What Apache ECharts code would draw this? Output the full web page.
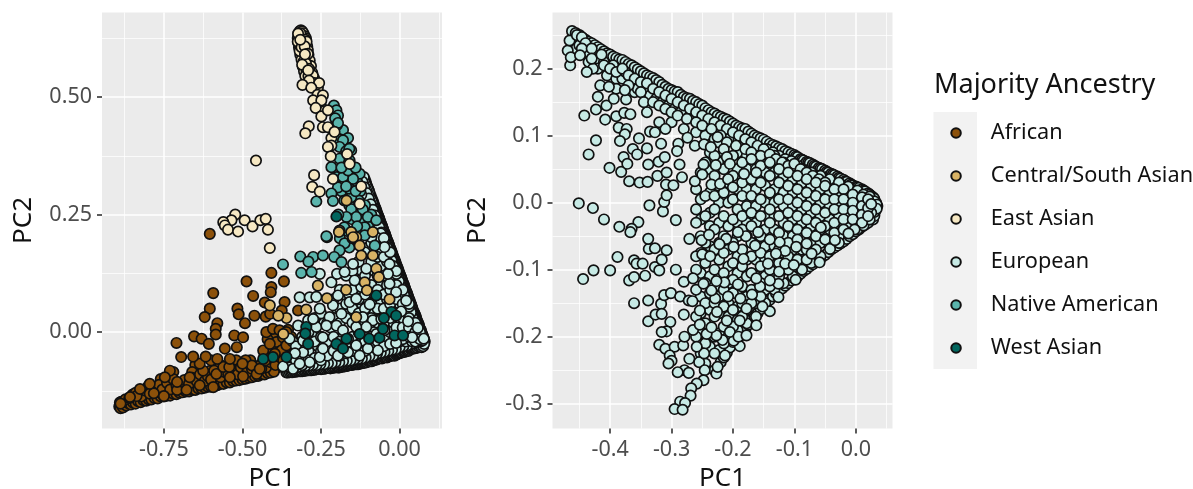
<!DOCTYPE html>
<html><head><meta charset="utf-8">
<style>html,body{margin:0;padding:0;background:#fff}#c{width:1193px;height:489px}</style>
<script src="https://cdn.jsdelivr.net/npm/echarts@6/dist/echarts.min.js"></script></head>
<body><div id="c"></div>
<script>
const categories=['African','Central/South Asian','East Asian','European','Native American','West Asian'];
const colors=['#8C510A','#D8B365','#F6E8C3','#C7EAE5','#5AB4AC','#01665E'];
const leftXTicks=[-0.75,-0.5,-0.25,0];
const leftYTicks=[0,0.25,0.5];
const leftXMinor=[-0.875,-0.625,-0.375,-0.125,0.125];
const leftYMinor=[-0.125,0.125,0.375,0.625];
const rightXTicks=[-0.4,-0.3,-0.2,-0.1,0];
const rightYTicks=[-0.3,-0.2,-0.1,0,0.1,0.2];
const rightXMinor=[-0.45,-0.35,-0.25,-0.15,-0.05,0.05];
const rightYMinor=[-0.25,-0.15,-0.05,0.05,0.15,0.25];

const africanDense=[[-.89,-.15],[-.886,-.148],[-.878,-.15],[-.868,-.148],[-.858,-.146],[-.85,-.143],[-.843,-.14],[-.835,-.14],[-.826,-.138],[-.818,-.135],[-.81,-.136],[-.8,-.133],[-.792,-.135],[-.784,-.127],[-.776,-.118],[-.768,-.13],[-.758,-.127],[-.746,-.125],[-.738,-.115],[-.725,-.118],[-.715,-.125],[-.7,-.118],[-.69,-.108],[-.675,-.116],[-.662,-.113],[-.652,-.108],[-.64,-.112],[-.628,-.108],[-.615,-.108],[-.605,-.083],[-.598,-.108],[-.585,-.104],[-.575,-.085],[-.565,-.102],[-.552,-.098],[-.548,-.08],[-.535,-.095],[-.522,-.094],[-.51,-.083],[-.495,-.088],[-.478,-.088],[-.462,-.086],[-.45,-.072],[-.435,-.08],[-.418,-.078],[-.402,-.076],[-.39,-.075],[-.38,-.073],[-.415,-.055],[-.405,-.04],[-.39,-.06],[-.375,-.05],[-.365,-.068],[-.355,-.06],[-.4,-.01],[-.385,-.02],[-.365,-.015],[-.355,.005],[-.345,-.01],[-.42,-.015],[-.43,-.05],[-.475,-.06],[-.49,-.06],[-.52,-.06],[-.57,-.07],[-.65,-.07],[-.6,-.06],[-.66,-.085],[-.72,-.085],[-.76,-.1],[-.8,-.124],[-.83,-.13]];
const african=[[-.892,-.158],[-.888,-.162],[-.885,-.155],[-.88,-.16],[-.875,-.153],[-.87,-.156],[-.862,-.152],[-.855,-.154],[-.848,-.15],[-.84,-.152],[-.832,-.147],[-.824,-.149],[-.815,-.145],[-.806,-.146],[-.798,-.143],[-.79,-.143],[-.78,-.14],[-.77,-.141],[-.76,-.137],[-.75,-.137],[-.74,-.135],[-.73,-.135],[-.72,-.131],[-.71,-.132],[-.7,-.129],[-.69,-.128],[-.68,-.126],[-.67,-.126],[-.66,-.123],[-.65,-.123],[-.64,-.12],[-.63,-.12],[-.62,-.118],[-.61,-.116],[-.6,-.116],[-.59,-.113],[-.58,-.113],[-.57,-.11],[-.56,-.11],[-.55,-.107],[-.54,-.107],[-.53,-.104],[-.52,-.103],[-.51,-.102],[-.5,-.1],[-.49,-.099],[-.48,-.097],[-.47,-.096],[-.46,-.094],[-.45,-.093],[-.44,-.09],[-.43,-.09],[-.42,-.087],[-.41,-.086],[-.4,-.084],
[-.882,-.148],[-.872,-.143],[-.86,-.14],[-.85,-.133],[-.84,-.129],[-.822,-.137],[-.81,-.124],[-.8,-.115],[-.79,-.12],[-.775,-.128],[-.765,-.112],[-.755,-.122],[-.74,-.108],[-.73,-.122],[-.72,-.1],[-.71,-.113],[-.695,-.115],[-.685,-.102],[-.67,-.11],[-.66,-.097],[-.645,-.105],[-.635,-.09],[-.62,-.104],[-.61,-.094],[-.6,-.101],[-.59,-.082],[-.57,-.096],[-.56,-.084],[-.545,-.09],[-.53,-.079],[-.515,-.09],[-.505,-.075],[-.485,-.085],[-.47,-.078],[-.455,-.08],[-.44,-.068],[-.425,-.075],[-.41,-.064],[-.395,-.07],[-.385,-.052],[-.37,-.06],[-.36,-.045],[-.35,-.035],[-.345,-.05],
[-.837,-.136],[-.795,-.131],[-.782,-.13],[-.75,-.136],[-.708,-.123],[-.678,-.123],[-.636,-.113],[-.583,-.089],[-.54,-.096],[-.498,-.094],[-.44,-.078],[-.593,-.117],[-.731,-.082],[-.747,-.096],[-.795,-.11],[-.826,-.121],[-.858,-.138],[-.708,-.106],[-.668,-.096],[-.625,-.082],[-.636,-.067],[-.561,-.074],[-.47,-.071],[-.455,-.089],[-.5,-.067],[-.542,-.074],[-.427,-.06],[-.445,-.078],[-.888,-.152],
[-.604,.209],[-.408,.126],[-.487,.108],[-.368,.108],[-.593,.083],[-.408,.096],[-.41,.085],[-.466,.077],[-.429,.063],[-.366,.064],[-.604,.05],[-.62,.032],[-.516,.05],[-.512,.038],[-.462,.035],[-.426,.033],[-.412,.039],[-.375,.046],[-.323,.046],[-.58,.019],[-.585,.007],[-.492,.019],[-.424,0],[-.403,.007],[-.382,.004],[-.36,0],[-.585,-.005],[-.654,-.009],[-.63,-.014],[-.71,-.023],[-.607,-.025],[-.526,-.007],[-.498,-.011],[-.518,-.032],[-.556,-.035],[-.695,-.053],[-.657,-.052],[-.617,-.052],[-.58,-.057],[-.54,-.057],[-.434,-.039],[-.392,-.021],[-.371,-.011],[-.35,-.021],[-.413,-.025],[-.376,-.039],[-.397,-.046],[-.36,-.028]];

const leftSlopeEdge=[[.078,-.017],[.075,-.011],[.072,-.005],[.069,.001],[.065,.007],[.062,.013],[.059,.019],[.055,.025],[.052,.031],[.049,.037],[.045,.043],[.041,.049],[.038,.055],[.035,.061],[.032,.067],[.028,.073],[.025,.079],[.022,.085],[.018,.091],[.015,.097],[.012,.103],[.008,.109],[.005,.115],[.002,.121],[-.002,.127],[-.005,.133],[-.008,.139],[-.012,.145],[-.015,.151],[-.018,.157],[-.022,.163],[-.025,.169],[-.028,.175],[-.032,.181],[-.035,.187],[-.038,.193],[-.042,.199],[-.045,.205],[-.048,.211],[-.052,.217],[-.055,.223],[-.058,.229],[-.062,.235],[-.065,.241],[-.068,.247],[-.072,.253],[-.075,.259],[-.078,.265],[-.082,.271],[-.085,.277],[-.089,.285],[-.095,.295],[-.1,.305],[-.106,.315],[-.111,.325],
[.08,-.02],[.077,-.014],[.074,-.008],[.07,-.002],[.068,.004],[.063,.01],[.061,.016],[.057,.022],[.053,.028],[.051,.034],[.047,.04],[.042,.046],[.04,.052],[.037,.058],[.033,.064],[.03,.07],[.027,.076],[.024,.082],[.02,.088],[.017,.094],[.014,.1],[.01,.106],[.007,.112],[.004,.118],[0,.124],[-.003,.13],[-.006,.136],[-.01,.142],[-.013,.148],[-.016,.154],[-.02,.16],[-.023,.166],[-.026,.172],[-.03,.178],[-.033,.184],[-.036,.19],[-.04,.196],[-.043,.202],[-.046,.208],[-.05,.214],[-.053,.22],[-.056,.226],[-.06,.232],[-.063,.238],[-.066,.244],[-.07,.25],[-.073,.256],[-.076,.262],[-.08,.268],[-.083,.274],[-.086,.28],[-.092,.29],[-.097,.3],[-.103,.31],[-.108,.32],[-.114,.33]];
const leftBaseEdge=[[.078,-.025],[.075,-.03],[.07,-.032],[.065,-.028],[.06,-.03],[.054,-.032],[.05,-.034],[.044,-.032],[.04,-.036],[.034,-.036],[.028,-.04],[.022,-.038],[.016,-.042],[.01,-.041],[.004,-.044],[-.002,-.045],[-.008,-.047],[-.016,-.05],[-.024,-.049],[-.032,-.051],[-.04,-.054],[-.048,-.053],[-.056,-.056],[-.064,-.055],[-.072,-.058],[-.08,-.059],[-.088,-.062],[-.096,-.061],[-.104,-.064],[-.112,-.065],[-.12,-.066],[-.128,-.067],[-.136,-.068],[-.144,-.068],[-.152,-.07],[-.16,-.07],[-.168,-.072],[-.176,-.073],[-.184,-.073],[-.192,-.075],[-.2,-.074],[-.21,-.075],[-.22,-.077],[-.23,-.076],[-.24,-.078],[-.25,-.079],[-.26,-.078],[-.27,-.08],[-.28,-.081],[-.29,-.081],[-.3,-.082],[-.31,-.083],[-.32,-.083],[-.33,-.084],[-.34,-.085],[-.35,-.085],[-.36,-.086],
[.074,-.028],[.068,-.03],[.062,-.031],[.056,-.033],[.048,-.033],[.042,-.034],[.036,-.035],[.03,-.038],[.024,-.039],[.018,-.04],[.012,-.041],[.006,-.043],[0,-.044],[-.005,-.046],[-.012,-.048],[-.02,-.049],[-.028,-.05],[-.036,-.052],[-.044,-.053],[-.052,-.054],[-.06,-.055],[-.068,-.056],[-.076,-.058],[-.084,-.06],[-.092,-.062],[-.1,-.062],[-.108,-.064],[-.116,-.065],[-.124,-.066],[-.132,-.068],[-.14,-.068],[-.148,-.069],[-.156,-.07],[-.164,-.071],[-.172,-.072],[-.18,-.073],[-.188,-.074],[-.196,-.075],[-.205,-.075],[-.215,-.076],[-.225,-.076],[-.235,-.077],[-.245,-.078],[-.255,-.078],[-.265,-.079],[-.275,-.08],[-.285,-.081],[-.295,-.081],[-.305,-.082],[-.315,-.083],[-.325,-.083],[-.335,-.084],[-.345,-.085],[-.355,-.086]];
const europeanLeftDense=[[-.118,.32],[-.112,.308],[-.105,.296],[-.098,.284],[-.092,.272],[-.085,.26],[-.078,.248],[-.072,.236],[-.065,.224],[-.058,.212],[-.052,.2],[-.045,.188],[-.038,.176],[-.032,.164],[-.025,.152],[-.018,.14],[-.012,.128],[-.005,.116],[.002,.104],[.008,.092],[.015,.08],[.022,.068],[.028,.056],[.035,.044],[.042,.032],[.048,.02],[.055,.008],[.06,-.004],[.065,-.012],
[.06,-.02],[.048,-.022],[.036,-.025],[.024,-.028],[.012,-.03],[0,-.032],[-.012,-.036],[-.024,-.038],[-.036,-.04],[-.048,-.042],[-.06,-.044],[-.072,-.046],[-.084,-.05],[-.096,-.051],[-.108,-.054],[-.12,-.056],[-.132,-.057],[-.144,-.058],[-.156,-.06],[-.168,-.061],[-.18,-.062],[-.192,-.064],[-.204,-.064],[-.216,-.066],[-.228,-.066],[-.24,-.068],[-.252,-.068],[-.264,-.07],[-.276,-.07],[-.288,-.071],[-.3,-.072],[-.312,-.072],[-.324,-.074],[-.336,-.074],[-.348,-.075],
[-.34,-.02],[-.32,-.04],[-.3,-.025],[-.28,-.005],[-.26,-.03],[-.24,.02],[-.22,.01],[-.2,.05],[-.18,.08],[-.18,-.01],[-.16,.04],[-.16,.08],[-.16,-.02],[-.14,.12],[-.14,.05],[-.14,-.01],[-.12,.13],[-.12,.09],[-.12,.06],[-.12,-.01],[-.1,.18],[-.1,.1],[-.1,.07],[-.1,.04],[-.1,-.01],[-.08,.2],[-.08,.16],[-.08,.13],[-.08,.08],[-.08,.04],[-.08,0],[-.06,.21],[-.06,.18],[-.06,.14],[-.06,.1],[-.06,.06],[-.06,.03],[-.06,-.01],[-.04,.18],[-.04,.15],[-.04,.1],[-.04,.07],[-.04,.04],[-.04,.01],[-.04,-.02],[-.02,.12],[-.02,.08],[-.02,.05],[-.02,.02],[-.02,-.01],[0,.09],[0,.06],[0,.03],[0,0],[0,-.02],[.02,.05],[.02,.02],[.02,0],[.02,-.02],[.04,.02],[.04,0],[.04,-.02]];
const europeanLeft=[[.066,-.02],[.062,-.006],[.056,.008],[.05,.018],[.042,.03],[.036,.042],[.03,.054],[.022,.068],[.014,.08],[.006,.096],[-.002,.108],[-.01,.124],[-.02,.14],[.072,-.018],
[-.33,-.03],[-.33,-.06],[-.31,-.01],[-.31,-.05],[-.31,-.07],[-.29,0],[-.29,-.04],[-.29,-.06],[-.27,.03],[-.27,-.02],[-.27,-.055],[-.25,.04],[-.25,-.01],[-.25,-.04],[-.25,-.06],[-.23,.02],[-.23,-.02],[-.23,-.05],[-.21,.07],[-.21,.03],[-.21,-.01],[-.21,-.04],[-.19,.09],[-.19,.05],[-.19,.02],[-.19,-.02],[-.19,-.05],[-.17,.12],[-.17,.06],[-.17,.03],[-.17,-.03],[-.17,-.045],[-.15,.13],[-.15,.09],[-.15,.05],[-.15,.02],[-.15,-.01],[-.15,-.04],[-.13,.15],[-.13,.11],[-.13,.07],[-.13,.04],[-.13,0],[-.13,-.03],[-.11,.17],[-.11,.12],[-.11,.08],[-.11,.05],[-.11,.02],[-.11,-.02],[-.11,-.04],[-.09,.19],[-.09,.15],[-.09,.1],[-.09,.06],[-.09,.03],[-.09,-.01],[-.09,-.03],[-.07,.2],[-.07,.16],[-.07,.12],[-.07,.09],[-.07,.05],[-.07,.02],[-.07,-.02],[-.05,.2],[-.05,.16],[-.05,.12],[-.05,.08],[-.05,.05],[-.05,.02],[-.05,-.01],[-.05,-.03],[-.03,.17],[-.03,.13],[-.03,.09],[-.03,.06],[-.03,.03],[-.03,0],[-.03,-.025],[-.01,.13],[-.01,.1],[-.01,.07],[-.01,.04],[-.01,.01],[-.01,-.01],[.01,.09],[.01,.06],[.01,.03],[.01,.01],[.01,-.015],[.03,.06],[.03,.03],[.03,.01],[.03,-.01],[.05,.02],[.05,0],[.05,-.02],[.065,0],[.065,-.015],
[-.35,-.014],[-.318,.074],[-.291,.025],[-.323,.014],[-.307,-.018],[-.265,.011],[-.244,-.011],[-.286,.074],[-.265,.075],[-.254,.124],[-.217,.106],[-.199,.124],[-.175,.128],[-.148,.145],[-.196,.078],[-.212,.057],[-.254,.05],[-.275,.028],[-.223,.032],[-.185,.039],[-.201,.014],[-.233,.014],[-.159,.064],[-.138,.071],[-.095,.059],[-.122,.096],[-.143,.11],[-.032,.103],[-.037,.124],[-.032,.145],[-.106,.135],[-.09,.204],[-.048,.181],[-.011,.085],[.021,.067],[.005,.044],[.027,.023],[.058,.009],[.077,-.014],[.04,-.011],[-.011,-.023],[-.069,-.039],[-.101,-.035],[-.138,-.028],[-.164,-.014],[-.127,-.05],[-.164,-.043],[-.196,-.05],[-.254,-.053],[-.286,-.064],[-.244,-.035],[-.307,-.043],[-.333,-.045],[-.339,-.078],[-.371,-.073],[-.318,-.067],[-.18,.004],[-.117,.032],[-.085,.025],[-.058,.028],[-.048,.004],[-.106,.011],[-.074,-.004],[-.138,.011],[-.122,.292],[-.09,.202]];

const nativeAmerican=[[-.15,.35],[-.135,.32],[-.125,.3],[-.15,.32],[-.13,.28],[-.11,.27],[-.09,.25],[-.12,.24],[-.1,.225],[-.16,.27],[-.185,.3],[-.2,.33],[-.17,.36],[-.19,.43],[-.175,.4],[-.15,.24],[-.165,.215],[-.125,.215],[-.19,.2],[-.16,.18],[-.18,.43],[-.19,.41],[-.2,.44],
[-.209,.482],[-.201,.472],[-.196,.461],[-.205,.455],[-.196,.445],[-.164,.413],[-.18,.408],[-.191,.394],[-.154,.387],[-.191,.369],[-.217,.351],[-.159,.365],[-.127,.337],[-.148,.326],[-.18,.33],[-.164,.344],[-.196,.308],[-.217,.295],[-.212,.279],[-.265,.278],[-.176,.28],[-.154,.287],[-.154,.262],[-.117,.261],[-.138,.245],[-.101,.245],[-.074,.238],[-.111,.223],[-.169,.245],[-.176,.223],[-.231,.202],[-.233,.204],[-.175,.189],[-.191,.174],[-.208,.16],[-.185,.149],[-.316,.161],[-.275,.16],[-.244,.163],[-.371,.144],[-.313,.126],[-.28,.128],[-.079,.184],[-.111,.206],[-.15,.2],[-.135,.225],[-.195,.25],[-.16,.305],[-.14,.3],[-.17,.31],[-.185,.35],[-.14,.35],[-.17,.385],[-.16,.39],[-.29,.15]];

const centralSouthAsian=[[-.191,.216],[-.154,.213],[-.138,.202],[-.085,.213],[-.169,.28],[-.193,.213],[-.148,.202],[-.127,.184],[-.122,.163],[-.085,.163],[-.074,.135],[-.066,.117],[-.111,.106],[-.104,.089],[-.231,.072],[-.032,.07],[-.26,.099],[-.297,.048],[-.36,.03],[-.386,.035],[-.413,.057],[-.138,.032],[-.37,-.004],[-.17,.09]];

const westAsian=[[-.201,.246],[-.074,.078],[-.026,.043],[-.011,.035],[-.05,.03],[-.127,-.004],[-.097,-.014],[-.064,-.012],[-.016,-.007],[.011,-.007],[-.053,.007],[-.297,.011],[-.3,-.003],[-.169,-.014],[-.201,-.025],[-.18,-.035],[-.291,-.025],[-.36,-.053],[-.403,-.053],[-.434,-.057]];

const eastAsian=[[-.322,.635],[-.318,.64],[-.314,.642],[-.31,.64],[-.306,.636],[-.302,.63],[-.298,.625],[-.324,.625],[-.322,.615],[-.318,.62],[-.312,.63],[-.308,.622],[-.316,.61],[-.31,.612],[-.304,.615],[-.298,.612],[-.294,.608],[-.32,.605],[-.314,.6],[-.306,.602],[-.3,.6],[-.292,.6],[-.316,.59],[-.31,.592],[-.304,.59],[-.296,.592],[-.29,.59],[-.3,.58],[-.312,.58],[-.306,.575],[-.294,.578],[-.286,.578],[-.308,.565],[-.3,.568],[-.29,.568],[-.282,.566],[-.304,.555],[-.296,.556],[-.284,.555],[-.278,.552],[-.3,.545],[-.29,.545],[-.28,.54],[-.272,.54],[-.285,.53],[-.32,.632],[-.316,.636],[-.3,.622],[-.296,.618],[-.32,.612],[-.324,.618],[-.318,.598],[-.312,.606],[-.302,.608],[-.292,.592],[-.298,.572],[-.288,.56],[-.276,.546],[-.27,.53],[-.26,.52],[-.25,.48],[-.24,.47],
[-.323,.635],[-.316,.622],[-.301,.591],[-.31,.569],[-.291,.557],[-.288,.535],[-.256,.53],[-.309,.526],[-.281,.52],[-.261,.505],[-.244,.504],[-.275,.493],[-.249,.493],[-.267,.477],[-.249,.459],[-.228,.472],[-.244,.436],[-.228,.436],[-.289,.438],[-.3,.423],[-.217,.413],[-.217,.397],[-.228,.394],[-.207,.426],[-.219,.374],[-.167,.379],[-.159,.358],[-.457,.365],[-.272,.334],[-.212,.326],[-.278,.309],[-.254,.299],[-.122,.31],[-.127,.273],[-.523,.25],[-.535,.238],[-.561,.234],[-.556,.227],[-.546,.218],[-.514,.214],[-.493,.238],[-.468,.225],[-.443,.238],[-.426,.241],[-.419,.218],[-.413,.179]];

const rightUpperEdge=[[-.456,.253],[-.445,.246],[-.435,.24],[-.425,.235],[-.415,.229],[-.405,.223],[-.395,.218],[-.385,.214],[-.375,.21],[-.365,.205],[-.355,.199],[-.345,.193],[-.335,.188],[-.325,.183],[-.315,.176],[-.305,.17],[-.295,.166],[-.285,.161],[-.275,.156],[-.265,.152],[-.255,.147],[-.245,.141],[-.235,.135],[-.225,.13],[-.215,.126],[-.205,.121],[-.195,.115],[-.185,.111],[-.175,.106],[-.165,.1],[-.155,.096],[-.145,.091],[-.135,.086],[-.125,.082],[-.115,.077],[-.105,.073],[-.095,.068],[-.085,.063],[-.075,.059],[-.065,.054],[-.055,.05],[-.045,.045],[-.035,.041],[-.025,.036],[-.015,.031],[-.005,.026],[.005,.022],[.015,.017],[.025,.01],[.03,.001],
[-.462,.256],[-.45,.25],[-.44,.243],[-.43,.238],[-.42,.232],[-.41,.226],[-.4,.221],[-.39,.216],[-.38,.213],[-.37,.207],[-.36,.202],[-.35,.196],[-.34,.19],[-.33,.186],[-.32,.18],[-.31,.173],[-.3,.168],[-.29,.165],[-.28,.158],[-.27,.155],[-.26,.15],[-.25,.145],[-.24,.138],[-.23,.133],[-.22,.128],[-.21,.124],[-.2,.118],[-.19,.113],[-.18,.11],[-.17,.103],[-.16,.098],[-.15,.094],[-.14,.088],[-.13,.084],[-.12,.08],[-.11,.075],[-.1,.071],[-.09,.065],[-.08,.061],[-.07,.057],[-.06,.052],[-.05,.048],[-.04,.043],[-.03,.039],[-.02,.034],[-.01,.029],[0,.024],[.01,.02],[.02,.014],[.03,.006],
[-.0975,.069],[-.0875,.064],[-.0775,.06],[-.0675,.055],[-.0575,.051],[-.0475,.046],[-.0375,.042],[-.0275,.037],[-.0175,.032],[-.0075,.027],[.0025,.023],[.0125,.018],[.0225,.012],[.028,.008],
[-.095,.06],[-.085,.056],[-.075,.05],[-.065,.047],[-.055,.042],[-.045,.039],[-.035,.034],[-.025,.03],[-.015,.026],[-.005,.021],[.005,.017],[.012,.013],[.018,.009],[.024,.005],[.028,.002]];
const rightLowerEdge=[[.033,0],[.035,-.005],[.033,-.008],[.032,-.012],[.03,-.015],[.03,-.018],[.03,-.02],[.028,-.025],[.025,-.025],[.02,-.03],[.015,-.033],[.01,-.036],[.005,-.04],[0,-.043],[-.005,-.047],[-.01,-.05],[-.015,-.054],[-.02,-.058],[-.025,-.061],[-.03,-.064],[-.035,-.067],[-.04,-.07],[-.045,-.074],[-.05,-.078],[-.055,-.081],[-.06,-.085],[-.065,-.088],[-.07,-.092],[-.075,-.095],[-.08,-.099],[-.085,-.102],[-.09,-.106],[-.095,-.11],[-.1,-.113],[-.105,-.116],[-.11,-.12],[-.115,-.124],[-.12,-.128],[-.125,-.131],[-.13,-.135],[-.135,-.14],[-.14,-.145],[-.145,-.149],[-.15,-.153],[-.155,-.159],[-.16,-.165],[-.165,-.17],[-.17,-.175],[-.175,-.182],[-.18,-.19],[-.185,-.195],[-.19,-.2],[-.195,-.204],[-.2,-.208],[-.205,-.216],[-.21,-.224],[-.215,-.231],[-.22,-.238],[-.23,-.25]];
const europeanRightDense=[[-.46,.24],[-.455,.23],[-.45,.235],[-.44,.225],[-.435,.21],[-.425,.22],[-.42,.215],[-.41,.21],[-.405,.19],[-.395,.205],[-.39,.185],[-.38,.185],[-.375,.195],[-.365,.175],[-.36,.165],[-.355,.17],[-.345,.17],[-.335,.16],[-.325,.155],[-.315,.15],[-.305,.145],[-.295,.14],[-.285,.135],[-.27,.13],[-.255,.125],[-.24,.115],[-.225,.108],[-.21,.1],[-.195,.095],[-.185,.09],[-.17,.085],[-.16,.075],[-.145,.08],[-.135,.075],[-.125,.07],[-.115,.065],[-.105,.062],[-.3,.12],[-.28,.11],[-.26,.105],[-.245,.1],[-.23,.095],[-.215,.075],[-.34,.135],[-.32,.12],[-.31,.11],
[-.2525,.045],[-.2525,.005],[-.2525,-.025],[-.2525,-.05],[-.2525,-.075],[-.2525,-.105],[-.2525,-.14],[-.2525,-.165],[-.2525,-.195],[-.2525,-.225],[-.2375,.075],[-.2375,.05],[-.2375,.015],[-.2375,-.015],[-.2375,-.035],[-.2375,-.065],[-.2375,-.11],[-.2375,-.135],[-.2375,-.16],[-.2375,-.19],[-.2375,-.215],[-.2225,.09],[-.2225,.06],[-.2225,.025],[-.2225,0],[-.2225,-.03],[-.2225,-.06],[-.2225,-.085],[-.2225,-.11],[-.2225,-.14],[-.2225,-.165],[-.2225,-.195],[-.2225,-.22],[-.2075,.095],[-.2075,.06],[-.2075,.03],[-.2075,0],[-.2075,-.035],[-.2075,-.07],[-.2075,-.095],[-.2075,-.12],[-.2075,-.15],[-.2075,-.17],[-.2075,-.2],[-.1925,.075],[-.1925,.05],[-.1925,.02],[-.1925,-.01],[-.1925,-.03],[-.1925,-.05],[-.1925,-.08],[-.1925,-.105],[-.1925,-.13],[-.1925,-.155],[-.1925,-.175],[-.1925,-.19],[-.1775,.07],[-.1775,.05],[-.1775,.02],[-.1775,-.005],[-.1775,-.03],[-.1775,-.05],[-.1775,-.085],[-.1775,-.11],[-.1775,-.14],[-.1775,-.16],[-.1775,-.18],[-.1625,.08],[-.1625,.05],[-.1625,.02],[-.1625,-.005],[-.1625,-.03],[-.1625,-.06],[-.1625,-.085],[-.1625,-.11],[-.1625,-.13],[-.1625,-.15],[-.1625,-.17],[-.1475,.075],[-.1475,.045],[-.1475,.025],[-.1475,0],[-.1475,-.02],[-.1475,-.04],[-.1475,-.065],[-.1475,-.085],[-.1475,-.11],[-.1475,-.13],[-.1475,-.15],[-.1325,.07],[-.1325,.045],[-.1325,.02],[-.1325,0],[-.1325,-.02],[-.1325,-.04],[-.1325,-.065],[-.1325,-.09],[-.1325,-.11],[-.1325,-.13],[-.1175,.06],[-.1175,.04],[-.1175,.015],[-.1175,-.005],[-.1175,-.03],[-.1175,-.05],[-.1175,-.075],[-.1175,-.1],[-.1175,-.12],[-.1025,.055],[-.1025,.035],[-.1025,.015],[-.1025,-.005],[-.1025,-.025],[-.1025,-.05],[-.1025,-.07],[-.1025,-.09],[-.1025,-.11],[-.0875,.05],[-.0875,.03],[-.0875,.01],[-.0875,-.01],[-.0875,-.03],[-.0875,-.05],[-.0875,-.07],[-.0875,-.09],[-.0875,-.1],[-.0725,.045],[-.0725,.025],[-.0725,.005],[-.0725,-.015],[-.0725,-.035],[-.0725,-.06],[-.0725,-.08],[-.0725,-.09],[-.0575,.04],[-.0575,.02],[-.0575,0],[-.0575,-.02],[-.0575,-.04],[-.0575,-.06],[-.0575,-.08],[-.0425,.035],[-.0425,.015],[-.0425,-.005],[-.0425,-.025],[-.0425,-.04],[-.0425,-.06],[-.0425,-.065],[-.0275,.03],[-.0275,.012],[-.0275,-.003],[-.0275,-.018],[-.0275,-.035],[-.0275,-.05],[-.0275,-.06],[-.0125,.024],[-.0125,.008],[-.0125,-.006],[-.0125,-.02],[-.0125,-.035],[-.0125,-.045],[.0025,.018],[.0025,.006],[.0025,-.006],[.0025,-.018],[.0025,-.03],[.0025,-.04],[.0125,.012],[.0125,0],[.0125,-.012],[.0125,-.025],[.0125,-.034],[.0225,.009],[.0225,-.003],[.0225,-.012],[.0225,-.025],[.03,.002],[.03,-.006],[.03,-.014],[.034,-.003],[.034,-.009]];
const europeanRight=[[.025,-.015],[.022,-.004],[.015,.004],
[-.42,.2],[-.41,.205],[-.4,.2],[-.39,.195],[-.38,.2],[-.37,.19],[-.36,.185],[-.35,.18],[-.34,.178],[-.33,.17],[-.32,.165],[-.31,.16],[-.3,.155],[-.29,.15],[-.28,.145],[-.27,.14],[-.26,.135],[-.25,.13],[-.24,.125],[-.23,.12],[-.22,.115],[-.21,.11],[-.2,.105],[-.19,.1],[-.18,.095],[-.17,.09],[-.16,.085],[-.15,.08],[-.39,.17],[-.37,.175],[-.35,.165],[-.345,.15],[-.33,.15],[-.32,.145],[-.31,.14],[-.3,.135],[-.29,.13],[-.275,.125],[-.26,.12],[-.25,.115],[-.235,.11],[-.22,.1],[-.21,.09],[-.195,.085],[-.18,.08],[-.17,.075],[-.155,.07],[-.14,.072],[-.13,.065],[-.12,.06],[-.11,.055],[-.1,.058],[-.09,.05],[-.08,.045],[-.07,.04],[-.06,.035],[-.05,.03],
[-.26,.02],[-.26,-.01],[-.26,-.03],[-.26,-.08],[-.26,-.1],[-.26,-.13],[-.26,-.17],[-.26,-.2],[-.245,.06],[-.245,.01],[-.245,-.02],[-.245,-.06],[-.245,-.09],[-.245,-.12],[-.245,-.15],[-.245,-.18],[-.245,-.21],[-.245,-.24],[-.23,.07],[-.23,.04],[-.23,.01],[-.23,-.01],[-.23,-.04],[-.23,-.07],[-.23,-.1],[-.23,-.125],[-.23,-.15],[-.23,-.17],[-.23,-.2],[-.23,-.225],[-.215,.08],[-.215,.05],[-.215,.015],[-.215,-.02],[-.215,-.05],[-.215,-.075],[-.215,-.105],[-.215,-.13],[-.215,-.155],[-.215,-.185],[-.215,-.21],[-.2,.07],[-.2,.04],[-.2,.005],[-.2,-.025],[-.2,-.06],[-.2,-.09],[-.2,-.115],[-.2,-.135],[-.2,-.16],[-.2,-.185],[-.185,.06],[-.185,.03],[-.185,.01],[-.185,-.02],[-.185,-.04],[-.185,-.07],[-.185,-.095],[-.185,-.125],[-.185,-.15],[-.185,-.17],[-.17,.065],[-.17,.035],[-.17,.01],[-.17,-.015],[-.17,-.035],[-.17,-.06],[-.17,-.08],[-.17,-.105],[-.17,-.13],[-.17,-.15],[-.155,.055],[-.155,.03],[-.155,.005],[-.155,-.02],[-.155,-.05],[-.155,-.075],[-.155,-.095],[-.155,-.12],[-.155,-.14],[-.14,.06],[-.14,.04],[-.14,.015],[-.14,-.01],[-.14,-.03],[-.14,-.055],[-.14,-.08],[-.14,-.1],[-.14,-.125],[-.125,.05],[-.125,.03],[-.125,.005],[-.125,-.02],[-.125,-.045],[-.125,-.07],[-.125,-.09],[-.125,-.11],[-.11,.045],[-.11,.025],[-.11,.005],[-.11,-.015],[-.11,-.035],[-.11,-.06],[-.11,-.08],[-.11,-.1],[-.095,.04],[-.095,.02],[-.095,0],[-.095,-.02],[-.095,-.04],[-.095,-.055],[-.095,-.085],[-.08,.035],[-.08,.015],[-.08,-.005],[-.08,-.025],[-.08,-.045],[-.08,-.07],[-.08,-.085],[-.065,.03],[-.065,.01],[-.065,-.01],[-.065,-.03],[-.065,-.05],[-.065,-.07],[-.05,.025],[-.05,.005],[-.05,-.015],[-.05,-.035],[-.05,-.055],[-.035,.02],[-.035,.005],[-.035,-.01],[-.035,-.03],[-.035,-.045],[-.02,.02],[-.02,.005],[-.02,-.01],[-.02,-.025],[-.02,-.04],[-.005,.012],[-.005,0],[-.005,-.012],[-.005,-.025],[.01,.008],[.01,-.005],[.01,-.018],[.01,-.03],[.02,.005],[.02,-.008],[.02,-.02],
[-.442,.13],[-.423,.093],[-.435,.072],[-.401,.052],[-.382,.046],[-.369,.032],[-.352,.03],[-.339,.031],[-.323,.04],[-.308,.045],[-.451,-.001],[-.428,-.008],[-.41,-.025],[-.385,-.036],[-.354,-.029],[-.336,-.004],[-.314,-.013],[-.312,.001],[-.308,.011],[-.293,-.026],[-.365,-.039],[-.465,.205],[-.469,.227],[-.464,.217],[-.466,.242],[-.454,.25],[-.446,.247],[-.44,.238],[-.446,.23],[-.449,.22],[-.43,.23],[-.428,.2],[-.438,.195],[-.43,.215],[-.414,.221],[-.416,.175],[-.402,.173],[-.42,.158],[-.406,.145],[-.423,.139],[-.394,.155],[-.374,.154],[-.376,.168],[-.408,.124],[-.39,.129],[-.377,.134],[-.367,.132],[-.386,.112],[-.373,.11],[-.376,.102],[-.384,.092],[-.353,.096],[-.335,.106],[-.327,.105],[-.363,.08],[-.34,.081],[-.317,.088],[-.378,.068],[-.372,.058],[-.356,.072],[-.338,.057],[-.321,.061],[-.311,.068],[-.289,.088],[-.291,.077],[-.287,.057],[-.274,.097],[-.262,.085],[-.247,.087],[-.236,.083],[-.225,.098],[-.248,.057],[-.228,.056],[-.21,.068],[-.205,.058],[-.309,.027],[-.297,.026],[-.283,.038],[-.262,.032],[-.25,.042],[-.235,.027],[-.221,.028],[-.208,.035],[-.2,.023],[-.182,.043],[-.162,.045],
[-.444,-.114],[-.427,-.101],[-.4,-.101],[-.388,-.081],[-.369,-.116],[-.361,-.111],[-.343,-.109],[-.361,-.086],[-.357,-.091],[-.347,-.091],[-.327,-.096],[-.32,-.101],[-.316,-.085],[-.308,-.071],[-.337,-.069],[-.327,-.068],[-.338,-.054],[-.367,-.044],[-.361,-.15],[-.338,-.146],[-.317,-.151],[-.312,-.138],[-.301,-.135],[-.338,-.177],[-.326,-.167],[-.316,-.166],[-.293,-.1],[-.28,-.118],[-.286,-.14],[-.272,-.146],[-.302,-.178],[-.308,-.192],[-.316,-.193],[-.32,-.212],[-.31,-.218],[-.295,-.215],[-.281,-.213],[-.303,-.228],[-.3,-.236],[-.305,-.24],[-.271,-.233],[-.279,-.25],[-.29,-.253],[-.272,-.254],[-.255,-.238],[-.247,-.225],[-.246,-.25],[-.248,-.265],[-.259,-.27],[-.268,-.277],[-.269,-.288],[-.286,-.297],[-.278,-.299],[-.295,-.308],[-.282,-.309],[-.227,-.255],[-.225,-.245],[-.213,-.228],[-.189,-.214],[-.199,-.206],[-.217,-.205],[-.227,-.198],[-.243,-.196],[-.259,-.215],[-.279,-.2],[-.265,-.19],[-.254,-.182],[-.235,-.186],[-.205,-.193],[-.191,-.2],[-.178,-.198],[-.162,-.183],[-.14,-.162],[-.189,-.176],[-.21,-.176],[-.226,-.163],[-.254,-.161],[-.28,-.167],[-.266,-.147],[-.229,-.143],[-.208,-.14],[-.188,-.143],[-.178,-.158],[-.152,-.155],[-.126,-.141],[-.156,-.125],[-.169,-.137],[-.192,-.122],[-.214,-.119],[-.235,-.131],[-.248,-.121],[-.265,-.113],[-.227,-.117],[-.126,-.121],[-.098,-.115],[-.14,-.116],[-.162,-.113],[-.125,-.103],[-.115,-.091],[-.101,-.093],[-.183,-.084],[-.199,-.066],[-.164,-.064],[-.179,-.05],[-.159,-.044],[-.192,-.044],[-.211,-.054],[-.222,-.062],[-.251,-.056],[-.239,-.048],[-.25,-.077],[-.237,-.08],[-.271,-.054],[-.124,-.059],[-.097,-.066],[-.115,-.072],[-.13,-.076],[-.143,-.091],[-.08,-.061],[-.072,-.076],[-.042,-.069],[-.034,-.056],[-.057,-.037],[-.002,-.04],[-.012,-.046],[-.059,-.089],[.025,-.002]];

const byY=(a,b)=>a[1]-b[1], byX=(a,b)=>a[0]-b[0];
const europeanLeftAll=[...leftSlopeEdge].sort(byY).concat([...leftBaseEdge].sort(byX),europeanLeftDense,europeanLeft);
const europeanRightAll=[...rightUpperEdge].sort(byX).concat([...rightLowerEdge].sort(byX),europeanRightDense,europeanRight);
const leftSeries=[africanDense.concat(african),centralSouthAsian,eastAsian,europeanLeftAll,nativeAmerican,westAsian];
const drawOrder=[0,3,4,5,1,2];
const font='"Noto Sans"';

function mainX(i,min,max,ticks,dec){return {type:'value',gridIndex:i,min,max,position:'bottom',
  name:'PC1',nameLocation:'middle',nameGap:37,nameTextStyle:{fontSize:26,color:'#111',fontFamily:font},
  axisLine:{show:false,onZero:false},axisTick:{show:true,length:5,lineStyle:{color:'#333',width:1.6},customValues:ticks},
  axisLabel:{show:true,margin:10,fontSize:21.5,color:'#4D4D4D',fontFamily:font,customValues:ticks,hideOverlap:false,showMinLabel:true,showMaxLabel:true,formatter:v=>v.toFixed(dec)},
  splitLine:{show:true,lineStyle:{color:'#fff',width:1.5}}};}
function mainY(i,min,max,ticks,dec,gap){return {type:'value',gridIndex:i,min,max,position:'left',
  name:'PC2',nameLocation:'middle',nameGap:gap,nameTextStyle:{fontSize:26,color:'#111',fontFamily:font},
  axisLine:{show:false,onZero:false},axisTick:{show:true,length:5,lineStyle:{color:'#333',width:1.6},customValues:ticks},
  axisLabel:{show:true,margin:10,fontSize:21.5,color:'#4D4D4D',fontFamily:font,customValues:ticks,formatter:v=>v.toFixed(dec)},
  splitLine:{show:true,lineStyle:{color:'#fff',width:1.5}}};}
function minorAxis(i,min,max,vals,pos){return {type:'value',gridIndex:i,min,max,position:pos,
  axisLine:{show:false,onZero:false},axisTick:{show:false,customValues:vals},axisLabel:{show:false,customValues:vals},
  splitLine:{show:true,lineStyle:{color:'#fff',width:.75}}};}

const LX=[-0.947,0.135],LY=[-0.205,0.68],RX=[-0.4938,0.0597],RY=[-0.337,0.2838];
const pointStyle=c=>({color:c,borderColor:'#111',borderWidth:1.7,opacity:1});
const series=drawOrder.map(k=>({type:'scatter',name:categories[k],xAxisIndex:0,yAxisIndex:0,data:leftSeries[k],symbol:'circle',symbolSize:10.4,itemStyle:pointStyle(colors[k]),silent:true,large:false,progressive:0}));
series.push({type:'scatter',name:categories[3],xAxisIndex:1,yAxisIndex:1,data:europeanRightAll,symbol:'circle',symbolSize:10.4,itemStyle:pointStyle(colors[3]),silent:true,large:false,progressive:0});

const option={animation:false,backgroundColor:'#fff',
 grid:[{left:102,top:12.5,width:340,height:416,show:true,backgroundColor:'#EBEBEB',borderWidth:0,outerBoundsMode:'none'},
       {left:552.5,top:12.5,width:340,height:416,show:true,backgroundColor:'#EBEBEB',borderWidth:0,outerBoundsMode:'none'}],
 xAxis:[mainX(0,LX[0],LX[1],leftXTicks,2),mainX(1,RX[0],RX[1],rightXTicks,1),minorAxis(0,LX[0],LX[1],leftXMinor,'bottom'),minorAxis(1,RX[0],RX[1],rightXMinor,'bottom')],
 yAxis:[mainY(0,LY[0],LY[1],leftYTicks,2,65),mainY(1,RY[0],RY[1],rightYTicks,1,61.5),minorAxis(0,LY[0],LY[1],leftYMinor,'left'),minorAxis(1,RY[0],RY[1],rightYMinor,'left')],
 title:{text:'Majority Ancestry',left:934,top:72,padding:0,textStyle:{fontSize:27,fontWeight:'normal',color:'#111',fontFamily:font}},
 legend:{orient:'vertical',left:950.3,top:122,padding:0,data:categories,itemWidth:9.5,itemHeight:9.5,itemGap:21,selectedMode:false,icon:'circle',
   textStyle:{fontSize:21.7,color:'#111',fontFamily:font,padding:[0,0,0,25]}},
 graphic:[{type:'rect',z:-1,shape:{x:933.5,y:112,width:43.5,height:257},style:{fill:'#F2F2F2'}}],
 series};
const chart=echarts.init(document.getElementById('c'),null,{renderer:'canvas'});
chart.setOption(option);
</script></body></html>
